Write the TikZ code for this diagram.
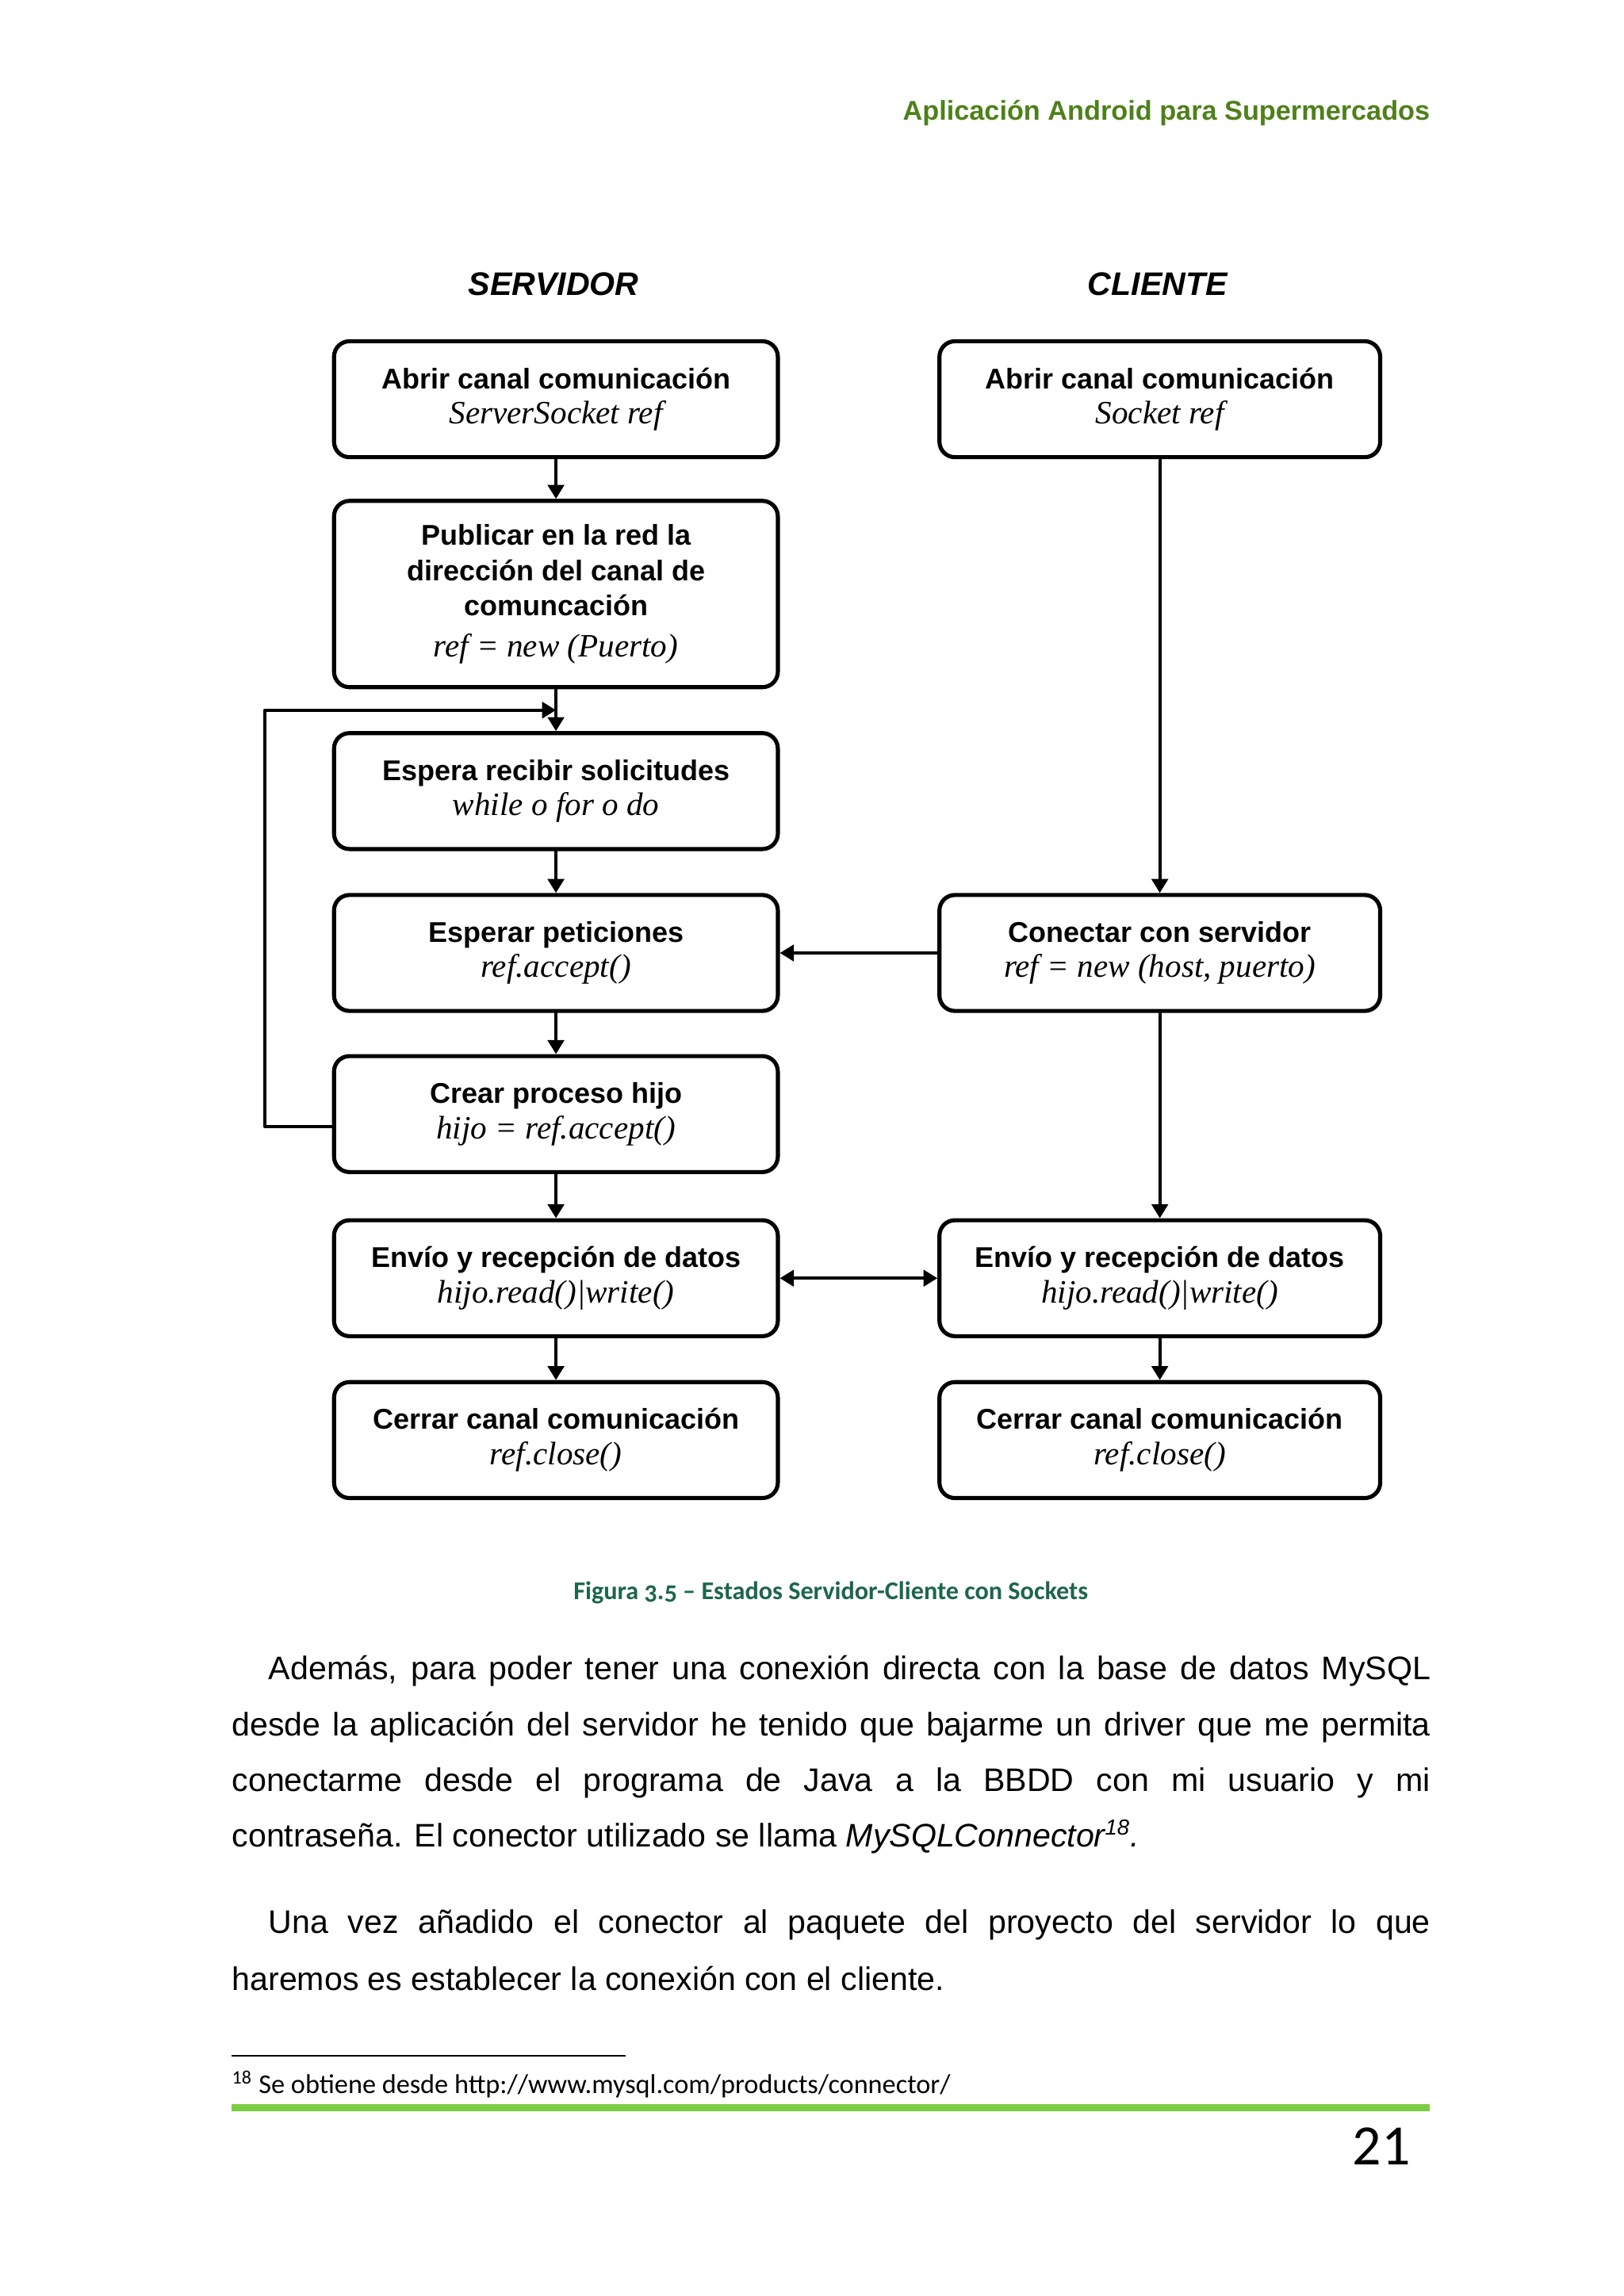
\documentclass[tikz,border=0pt]{standalone}
\usepackage{fontspec}
\setmainfont{Liberation Sans}
\newfontfamily\serifit{Liberation Serif}
\newfontfamily\calibri{Carlito}
\usetikzlibrary{arrows.meta,calc}
\definecolor{verdecab}{RGB}{78,128,26}
\definecolor{verdepie}{RGB}{124,205,66}
\definecolor{verdefig}{RGB}{28,102,74}
\newcommand{\cod}[1]{{\serifit\mdseries\itshape\fontsize{12}{13}\selectfont #1}}
\begin{document}
\begin{tikzpicture}[line join=round, line cap=round, >={Triangle[length=1.8mm,width=2.1mm]},
		estado/.style={draw, line width=1.5pt, rounded corners=2mm, minimum width=5.74cm, minimum height=1.5cm, align=center, inner sep=2pt, font=\fontsize{10.5}{13}\selectfont\bfseries},
		flecha/.style={->, line width=1.1pt},
		titulo/.style={font=\fontsize{12}{14}\selectfont\bfseries\itshape},
		linea/.style={anchor=base west, inner sep=0pt, font=\fontsize{12}{14}\selectfont}]
	\useasboundingbox (0,0) rectangle (21,-29.7);
	\node[anchor=base east, inner sep=0pt, text=verdecab, font=\fontsize{10}{12}\selectfont\bfseries] (cabecera) at (18.50,-1.554) {Aplicación Android para Supermercados};
	\node[titulo] (tserv) at (7.16,-3.676) {SERVIDOR};
	\node[titulo] (tcli) at (14.97,-3.676) {CLIENTE};
	\node[estado] (sabrir) at (7.19,-5.164) {Abrir canal comunicación\\ \cod{ServerSocket ref}};
	\node[estado, minimum height=2.41cm] (publicar) at (7.19,-7.684) {Publicar en la red la\\dirección del canal de\\comuncación\\[2pt] \cod{ref = new (Puerto)}};
	\node[estado] (espera) at (7.19,-10.233) {Espera recibir solicitudes\\ \cod{while o for o do}};
	\node[estado] (peticiones) at (7.19,-12.327) {Esperar peticiones\\ \cod{ref.accept()}};
	\node[estado] (crear) at (7.19,-14.411) {Crear proceso hijo\\ \cod{hijo = ref.accept()}};
	\node[estado] (senvio) at (7.19,-16.534) {Envío y recepción de datos\\ \cod{hijo.read()|write()}};
	\node[estado] (scerrar) at (7.19,-18.628) {Cerrar canal comunicación\\ \cod{ref.close()}};
	\node[estado, minimum width=5.7cm] (cabrir) at (15.0,-5.164) {Abrir canal comunicación\\ \cod{Socket ref}};
	\node[estado, minimum width=5.7cm] (conectar) at (15.0,-12.327) {Conectar con servidor\\ \cod{ref = new (host, puerto)}};
	\node[estado, minimum width=5.7cm] (cenvio) at (15.0,-16.534) {Envío y recepción de datos\\ \cod{hijo.read()|write()}};
	\node[estado, minimum width=5.7cm] (ccerrar) at (15.0,-18.628) {Cerrar canal comunicación\\ \cod{ref.close()}};
	\coordinate (junta) at ($(publicar.south)!0.5!(espera.north)$);
	\draw[flecha] (sabrir) -- (publicar);
	\draw[flecha] (publicar) -- (espera);
	\draw[flecha] (espera) -- (peticiones);
	\draw[flecha] (peticiones) -- (crear);
	\draw[flecha] (crear) -- (senvio);
	\draw[flecha] (senvio) -- (scerrar);
	\draw[flecha] ([yshift=-4.5pt]crear.west) -- ++(-0.87,0) |- (junta);
	\draw[flecha] (cabrir) -- (conectar);
	\draw[flecha] (conectar) -- (peticiones);
	\draw[flecha] (conectar) -- (cenvio);
	\draw[flecha, <->] (senvio) -- (cenvio);
	\draw[flecha] (cenvio) -- (ccerrar);
	\node[text=verdefig, font=\calibri\fontsize{9.4}{11}\selectfont\bfseries] (figura) at (10.745,-20.60) {Figura {\addfontfeatures{Numbers=OldStyle}3.5} – Estados Servidor-Cliente con Sockets};
	\node[linea] (p1) at (3.468,-21.73) {\makebox[15.027cm][s]{Además, para poder tener una conexión directa con la base de datos MySQL}};
	\node[linea] (p2) at (2.994,-22.45) {\makebox[15.50cm][s]{desde la aplicación del servidor he tenido que bajarme un driver que me permita}};
	\node[linea] (p3) at (2.994,-23.17) {\makebox[15.50cm][s]{conectarme desde el programa de Java a la BBDD con mi usuario y mi}};
	\node[linea] (p4) at (2.994,-23.89) {contraseña. El conector utilizado se llama \textit{MySQLConnector\textsuperscript{18}.}};
	\node[linea] (q1) at (3.468,-25.01) {\makebox[15.027cm][s]{Una vez añadido el conector al paquete del proyecto del servidor lo que}};
	\node[linea] (q2) at (2.994,-25.75) {haremos es establecer la conexión con el cliente.};
	\draw[line width=0.6pt, line cap=butt] (2.994,-26.59) -- (8.09,-26.59);
	\node[anchor=base west, inner sep=0pt, font=\calibri\fontsize{10}{12}\selectfont] (nota) at (2.994,-27.08) {\textsuperscript{18} Se obtiene desde http://www.mysql.com/products/connector/};
	\draw[verdepie, line width=0.9mm, line cap=butt] (2.994,-27.26) -- (18.495,-27.26);
	\node[anchor=base east, inner sep=0pt, font=\calibri\fontsize{21}{24}\selectfont] (pagina) at (18.25,-28.0) {21};
\end{tikzpicture}
\end{document}
